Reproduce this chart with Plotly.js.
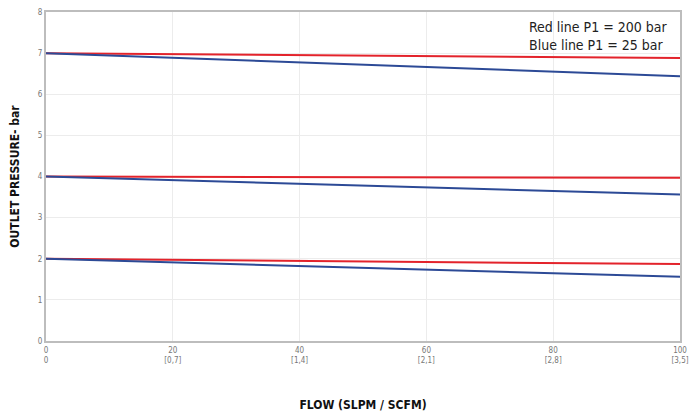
<!DOCTYPE html>
<html>
<head>
<meta charset="utf-8">
<script src="https://cdn.plot.ly/plotly-3.0.1.min.js"></script>
<style>html,body{margin:0;padding:0;background:#fff;}#chart{width:690px;height:412px;}</style>
</head>
<body>
<div id="chart"></div>
<script>
var flow = [0, 100];
var red7 = [7, 6.88];
var blue7 = [7, 6.44];
var red4 = [4, 3.97];
var blue4 = [4, 3.56];
var red2 = [2, 1.87];
var blue2 = [2, 1.56];
var xTickVals = [0, 20, 40, 60, 80, 100];
var xTickText = ['0<br>0', '20<br>[0,7]', '40<br>[1,4]', '60<br>[2,1]', '80<br>[2,8]', '100<br>[3,5]'];
var yTickVals = [0, 1, 2, 3, 4, 5, 6, 7, 8];

var RED = '#e3232b', BLUE = '#2c4a96';
function tr(y, c) {
  return {x: flow, y: y, mode: 'lines', line: {color: c, width: 2}, showlegend: false, hoverinfo: 'skip'};
}
var data = [tr(red7, RED), tr(blue7, BLUE), tr(red4, RED), tr(blue4, BLUE), tr(red2, RED), tr(blue2, BLUE)];

var cond = '"Liberation Sans Narrow", "DejaVu Sans Condensed", Roboto, sans-serif';
var layout = {
  width: 690, height: 412,
  margin: {l: 46, r: 10, t: 12, b: 71},
  paper_bgcolor: '#fff', plot_bgcolor: '#fff',
  xaxis: {
    range: [0, 100], tickvals: xTickVals, ticktext: xTickText,
    showgrid: true, gridcolor: '#ececec', gridwidth: 1,
    zeroline: false, showline: true, linecolor: '#bdbdbd', linewidth: 2, mirror: true,
    ticks: '', tickfont: {family: cond, size: 8, color: '#777'},
    title: {text: 'FLOW (SLPM / SCFM)', font: {family: cond, size: 12, color: '#111', weight: 'bold'}, standoff: 38}
  },
  yaxis: {
    range: [0, 8], tickvals: yTickVals,
    showgrid: true, gridcolor: '#ececec', gridwidth: 1,
    zeroline: false, showline: true, linecolor: '#bdbdbd', linewidth: 2, mirror: true,
    ticks: '', tickfont: {family: cond, size: 8, color: '#777'},
    title: {text: 'OUTLET PRESSURE- bar', font: {family: cond, size: 12, color: '#111', weight: 'bold'}, standoff: 16}
  },
  annotations: [{
    xref: 'paper', yref: 'paper', x: 0.985, y: 0.985, xanchor: 'right', yanchor: 'top',
    align: 'left', showarrow: false,
    text: 'Red line P1 = 200 bar<br>Blue line P1 = 25 bar',
    font: {family: cond, size: 14, color: '#222'}
  }]
};
Plotly.newPlot('chart', data, layout, {displayModeBar: false, staticPlot: true});
</script>
</body>
</html>
